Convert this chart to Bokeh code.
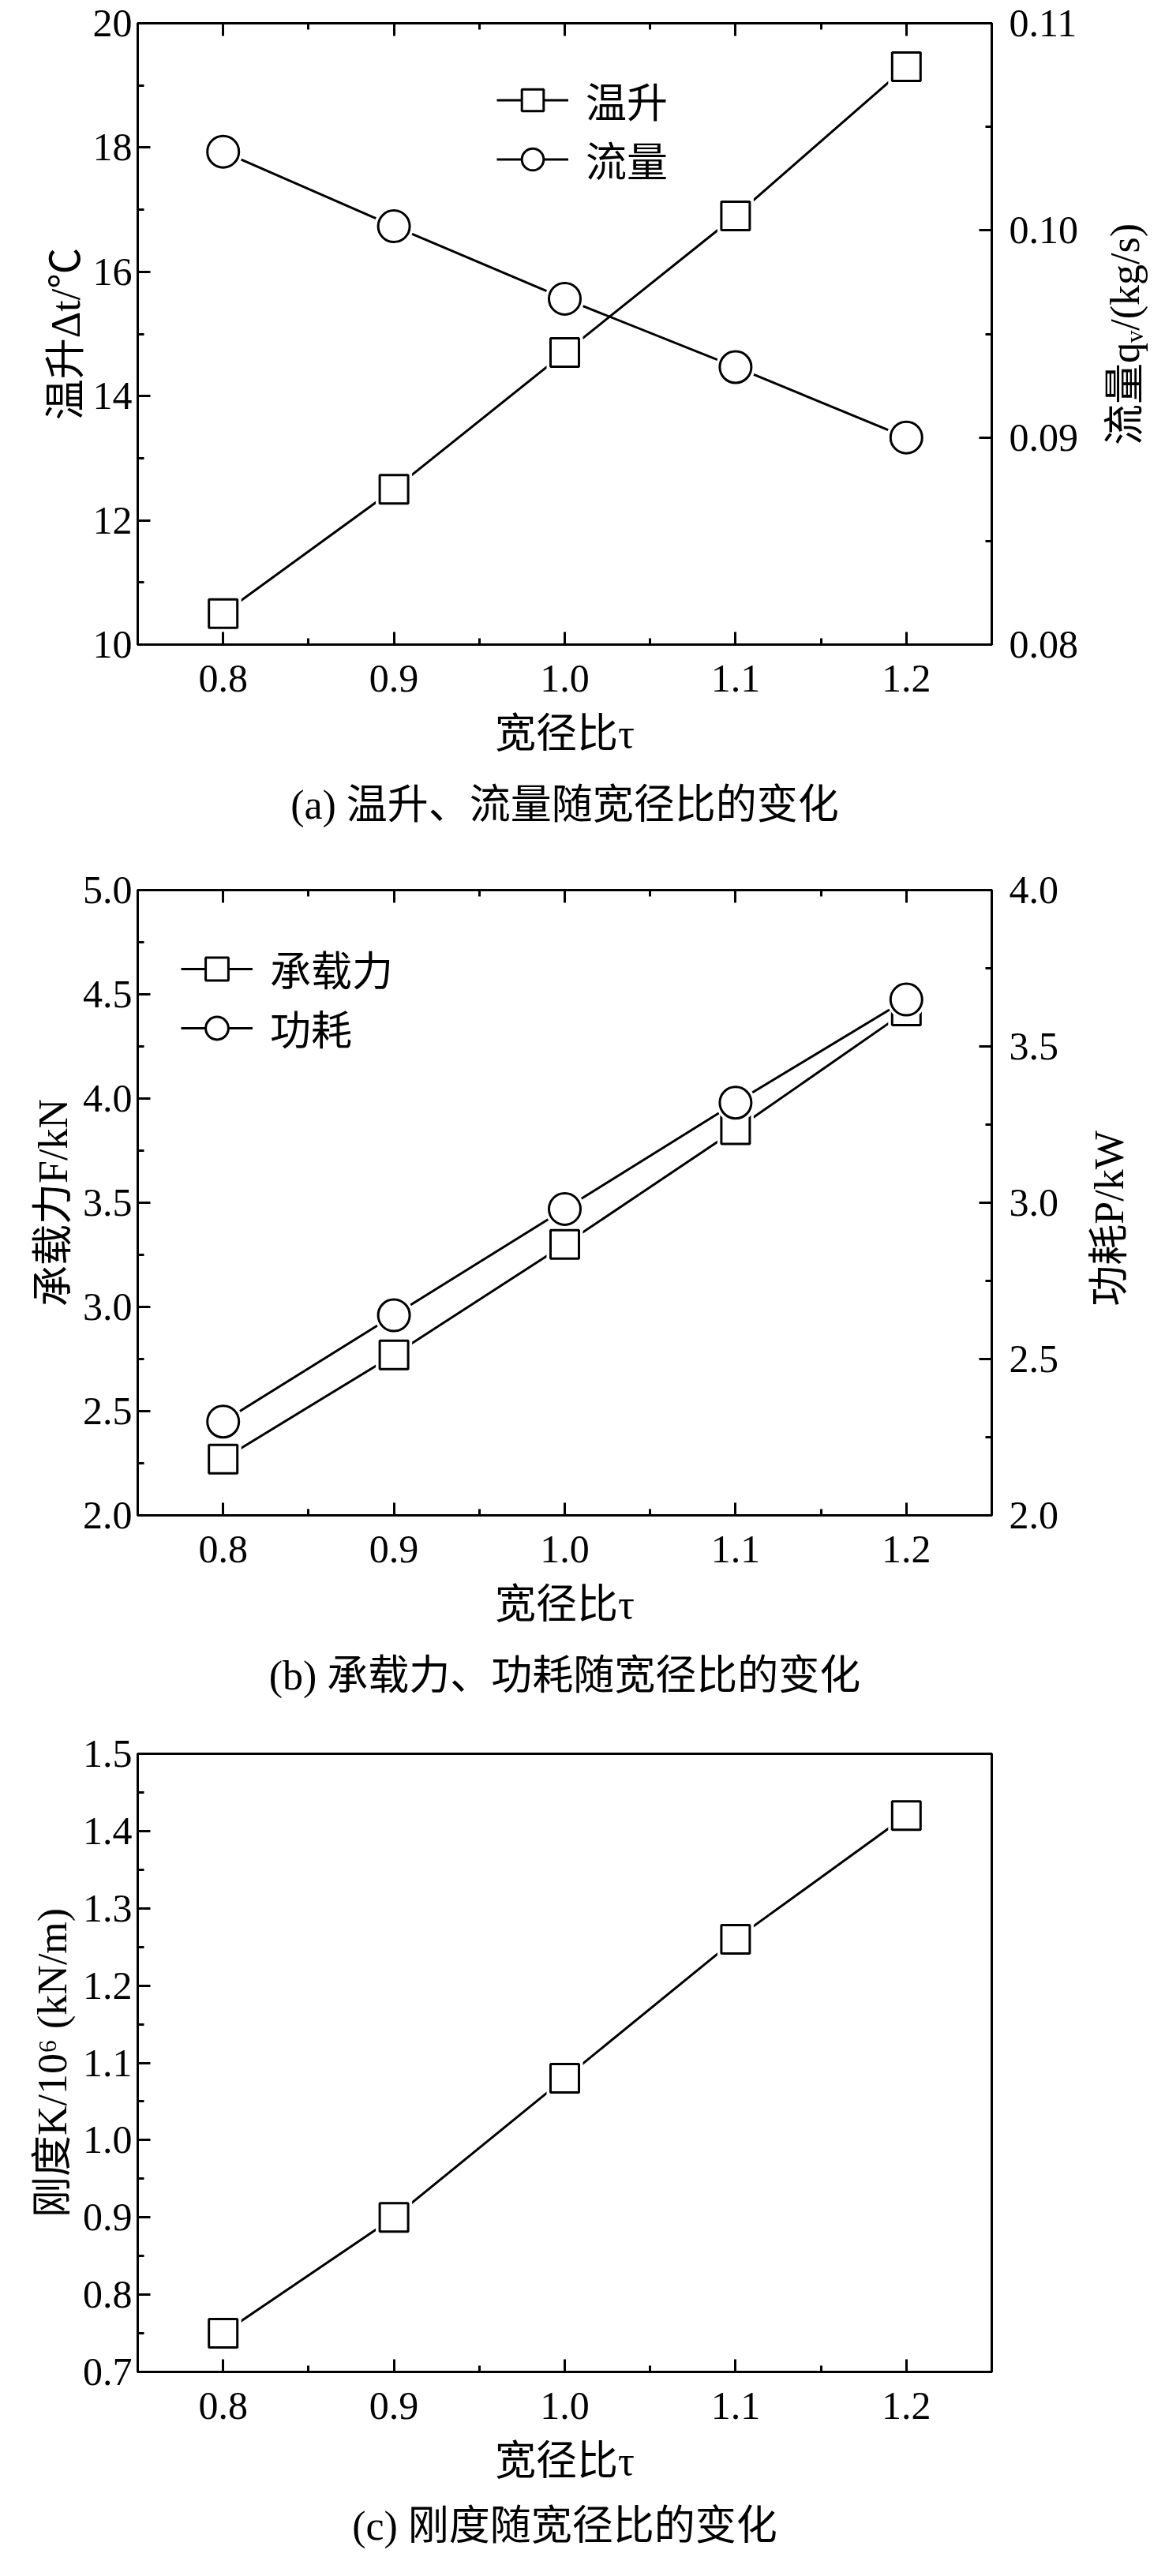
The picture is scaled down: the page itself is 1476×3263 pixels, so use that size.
import math
from bokeh.plotting import figure
from bokeh.models import (Range1d, LinearAxis, SingleIntervalTicker, NumeralTickFormatter,
                          CustomJSTickFormatter, Legend, LegendItem, Label, Title)
from bokeh.layouts import column
from bokeh.embed import file_html
from bokeh.resources import INLINE

# ---------------- data ----------------
ratio = [0.8, 0.9, 1.0, 1.1, 1.2]          # 宽径比 τ
temp_rise = [10.5, 12.5, 14.7, 16.9, 19.3]  # 温升 Δt /℃
flow = [0.1038, 0.1002, 0.0967, 0.0934, 0.0900]  # 流量 q_V /(kg/s)
load = [2.27, 2.77, 3.30, 3.85, 4.42]       # 承载力 F /kN
power = [2.30, 2.64, 2.98, 3.32, 3.65]      # 功耗 P /kW
stiffness = [0.75, 0.90, 1.08, 1.26, 1.42]  # 刚度 K /10^6 (kN/m)

x_label = "宽径比τ"
captions = ["(a) 温升、流量随宽径比的变化",
            "(b) 承载力、功耗随宽径比的变化",
            "(c) 刚度随宽径比的变化"]

SERIF = "Liberation Serif, Noto Sans CJK SC"
NUM = "Liberation Serif"


def style_axis(ax, label_standoff=10, tick_standoff=12):
    ax.axis_line_width = 3
    ax.axis_line_color = "black"
    ax.major_tick_in = 16
    ax.major_tick_out = 0
    ax.minor_tick_in = 8
    ax.minor_tick_out = 0
    ax.major_tick_line_width = 3
    ax.minor_tick_line_width = 3
    ax.major_tick_line_color = "black"
    ax.minor_tick_line_color = "black"
    ax.major_label_text_font = NUM
    ax.major_label_text_font_size = "50px"
    ax.major_label_text_color = "black"
    ax.major_label_standoff = tick_standoff
    ax.axis_label_text_font = SERIF
    ax.axis_label_text_font_size = "52px"
    ax.axis_label_text_font_style = "normal"
    ax.axis_label_text_color = "black"
    ax.axis_label_standoff = label_standoff


def make_fig(height, btop, bbottom, yr, ylabel, yint, yfmt, caption, left_standoff,
             cap_standoff=56):
    p = figure(width=1460, height=height, output_backend="svg", toolbar_location=None,
               x_range=Range1d(0.75, 1.25), y_range=Range1d(*yr),
               min_border_left=174, min_border_right=204,
               min_border_top=btop, min_border_bottom=bbottom)
    p.grid.visible = False
    p.outline_line_color = "black"
    p.outline_line_width = 3
    p.background_fill_color = "white"
    p.border_fill_color = "white"

    p.xaxis.ticker = SingleIntervalTicker(interval=0.1, num_minor_ticks=2)
    p.xaxis.formatter = NumeralTickFormatter(format="0.0")
    p.xaxis.axis_label = x_label
    style_axis(p.xaxis[0], label_standoff=22, tick_standoff=26)

    p.yaxis.ticker = SingleIntervalTicker(interval=yint, num_minor_ticks=2)
    p.yaxis.formatter = NumeralTickFormatter(format=yfmt)
    p.yaxis.axis_label = ylabel
    style_axis(p.yaxis[0], label_standoff=left_standoff, tick_standoff=7)

    t = Title(text=caption, align="center", text_font=SERIF, text_font_size="52px",
              text_font_style="normal", text_color="black", standoff=cap_standoff)
    p.add_layout(t, "below")
    return p


def add_top(p):
    tax = LinearAxis(ticker=SingleIntervalTicker(interval=0.1, num_minor_ticks=2),
                     formatter=CustomJSTickFormatter(code="return ''"))
    style_axis(tax, tick_standoff=0)
    tax.major_label_text_font_size = "1px"
    p.add_layout(tax, "above")


def add_right(p, yr, label, yint, yfmt, lx, ly):
    p.extra_y_ranges = {"r": Range1d(*yr)}
    rax = LinearAxis(y_range_name="r",
                     ticker=SingleIntervalTicker(interval=yint, num_minor_ticks=2),
                     formatter=NumeralTickFormatter(format=yfmt))
    style_axis(rax, tick_standoff=22)
    p.add_layout(rax, "right")
    lab = Label(x=lx, y=ly, x_units="screen", y_units="screen", text=label,
                angle=math.pi / 2, text_align="center", text_baseline="middle",
                text_font=SERIF, text_font_size="52px", text_color="black")
    p.add_layout(lab, "right")


def series(p, y, marker, size, y_range_name="default"):
    ln = p.line(ratio, y, line_width=3, line_color="black", y_range_name=y_range_name)
    p.scatter(ratio, y, marker=marker, size=size + 10, fill_color="white",
              line_color=None, y_range_name=y_range_name)
    sc = p.scatter(ratio, y, marker=marker, size=size, fill_color="white",
                   line_color="black", line_width=3, y_range_name=y_range_name)
    return ln, sc


def add_legend(p, items, loc, gh):
    lg = Legend(items=items, location=loc, padding=0, margin=0, spacing=0,
                glyph_width=91, glyph_height=gh, label_height=gh,
                label_standoff=22, label_text_font=SERIF, label_text_font_size="52px",
                label_text_color="black", border_line_color=None,
                background_fill_alpha=0)
    p.add_layout(lg)


# ---------------- (a) ----------------
pa = make_fig(1080, 29, 264, (10, 20), "温升Δt/℃", 2, "0", captions[0], 3)
add_top(pa)
add_right(pa, (0.08, 0.11), "流量qᵥ/(kg/s)", 0.01, "0.00", 56, 393)
la1, sa1 = series(pa, temp_rise, "square", 36)
la2, sa2 = series(pa, flow, "circle", 40, "r")
add_legend(pa, [LegendItem(label="温升", renderers=[la1, sa1]),
                LegendItem(label="流量", renderers=[la2, sa2])], (455, 577), 69)

# ---------------- (b) ----------------
pb = make_fig(1101, 47, 262, (2.0, 5.0), "承载力F/kN", 0.5, "0.0", captions[1], 6)
add_top(pb)
add_right(pb, (2.0, 4.0), "功耗P/kW", 0.5, "0.0", 61, 376)
lb1, sb1 = series(pb, load, "square", 36)
lb2, sb2 = series(pb, power, "circle", 40, "r")
add_legend(pb, [LegendItem(label="承载力", renderers=[lb1, sb1]),
                LegendItem(label="功耗", renderers=[lb2, sb2])], (55, 580), 72)

# ---------------- (c) ----------------
pc = make_fig(1066, 40, 242, (0.7, 1.5), "刚度K/10⁶ (kN/m)", 0.1, "0.0", captions[2], 7,
              cap_standoff=40)
series(pc, stiffness, "square", 36)

layout = column(pa, pb, pc, spacing=0)
open("out.html", "w").write(file_html(layout, INLINE))
